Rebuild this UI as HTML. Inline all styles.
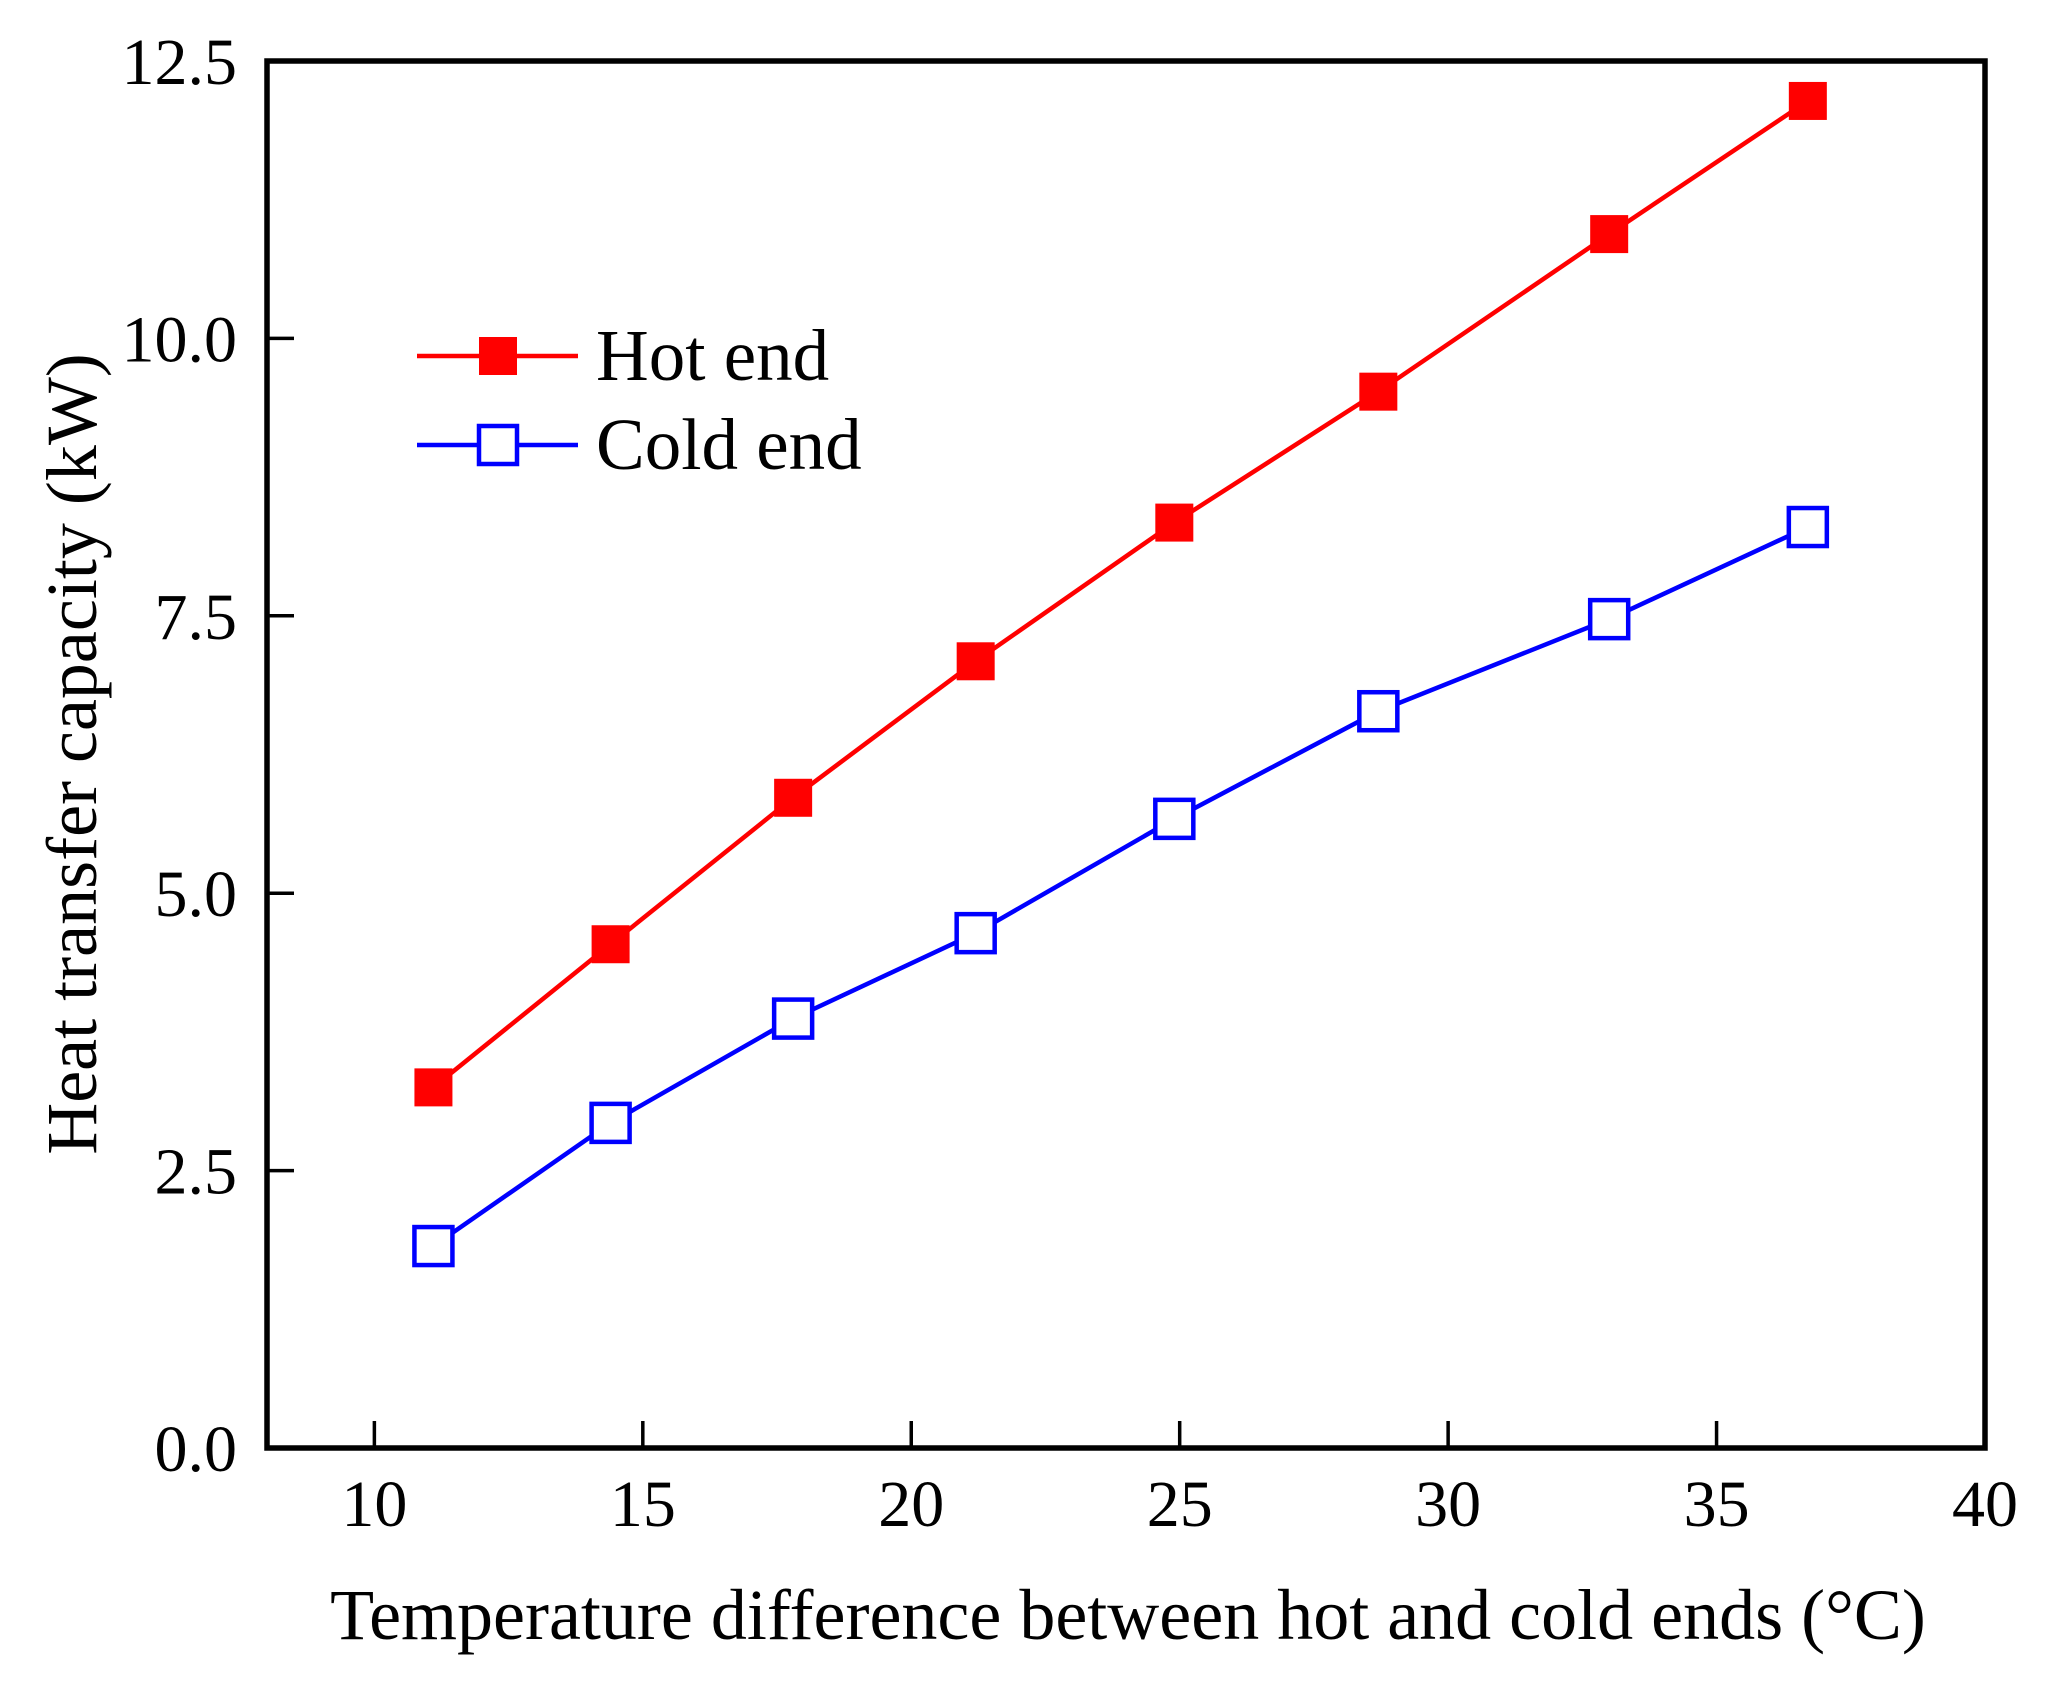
<!DOCTYPE html>
<html><head><meta charset="utf-8"><style>
html,body{margin:0;padding:0;background:#fff;}
svg{display:block;font-family:"Liberation Serif","DejaVu Serif",serif;}
</style></head><body>
<svg id="chart" width="2045" height="1686" viewBox="0 0 2045 1686" xmlns="http://www.w3.org/2000/svg"></svg>
<script>
const xValues = [11.1, 14.4, 17.8, 21.2, 24.9, 28.7, 33.0, 36.7];
const hotValues = [3.25, 4.54, 5.86, 7.09, 8.34, 9.52, 10.94, 12.14];
const coldValues = [1.82, 2.93, 3.87, 4.64, 5.67, 6.64, 7.47, 8.30];
const xTicks = [10, 15, 20, 25, 30, 35, 40];
const yTicks = [0.0, 2.5, 5.0, 7.5, 10.0, 12.5];
const seriesNames = ["Hot end", "Cold end"];

const NS = "http://www.w3.org/2000/svg";
const svg = document.getElementById("chart");
const L = 267, R = 1985, T = 61, B = 1448;
const xMin = 8, xMax = 40, yMin = 0, yMax = 12.5;
const sx = v => L + (v - xMin) / (xMax - xMin) * (R - L);
const sy = v => B - (v - yMin) / (yMax - yMin) * (B - T);
function mk(tag, attrs, parent) {
  const e = document.createElementNS(NS, tag);
  for (const k in attrs) e.setAttribute(k, attrs[k]);
  (parent || svg).appendChild(e);
  return e;
}

const frame = mk("rect", {x: L, y: T, width: R - L, height: B - T, fill: "none", stroke: "#000", "stroke-width": 5.5});



xTicks.forEach(v => {
  const t = mk("line", {x1: sx(v), x2: sx(v), y1: B, y2: B - 27, stroke: "#000", "stroke-width": 3.5});
  
  
  const lb = mk("text", {x: sx(v), y: 1526, "text-anchor": "middle", "font-size": 66});
  lb.textContent = String(v);
  
  
});
yTicks.forEach(v => {
  const t = mk("line", {x1: L, x2: L + 27, y1: sy(v), y2: sy(v), stroke: "#000", "stroke-width": 3.5});
  
  
  const lb = mk("text", {x: 237, y: sy(v) + 23, "text-anchor": "end", "font-size": 66});
  lb.textContent = v.toFixed(1);
  
  
});

const xt = mk("text", {x: 1128, y: 1639, "text-anchor": "middle", "font-size": 72});
xt.textContent = "Temperature difference between hot and cold ends (°C)";


const yt = mk("text", {x: 0, y: 0, "text-anchor": "middle", "font-size": 72, transform: "translate(96,754) rotate(-90)"});
yt.textContent = "Heat transfer capacity (kW)";



function drawSeries(vals, color, filled, name) {
  const g = mk("g", {});
  
  
  const pts = xValues.map((x, i) => sx(x) + "," + sy(vals[i])).join(" ");
  const pl = mk("polyline", {points: pts, fill: "none", stroke: color, "stroke-width": 4.5}, g);
  
  
  const s = 38;
  xValues.forEach((x, i) => {
    const r = mk("rect", {x: sx(x) - s / 2, y: sy(vals[i]) - s / 2, width: s, height: s,
      fill: filled ? color : "#fff", stroke: color, "stroke-width": filled ? 0 : 4.5}, g);
    
    
  });
}
drawSeries(hotValues, "#ff0000", true, "hot-end");
drawSeries(coldValues, "#0000ff", false, "cold-end");

const lg = mk("g", {});


[["#ff0000", true, 356], ["#0000ff", false, 445]].forEach((d, i) => {
  const e = mk("g", {}, lg);
  
  
  mk("line", {x1: 417, x2: 578, y1: d[2], y2: d[2], stroke: d[0], "stroke-width": 4.5}, e);
  mk("rect", {x: 498 - 19, y: d[2] - 19, width: 38, height: 38, fill: d[1] ? d[0] : "#fff", stroke: d[0], "stroke-width": d[1] ? 0 : 4.5}, e);
  const t = mk("text", {x: 596, y: d[2] + 24, "font-size": 73}, e);
  t.textContent = seriesNames[i];
});
</script>
</body></html>
